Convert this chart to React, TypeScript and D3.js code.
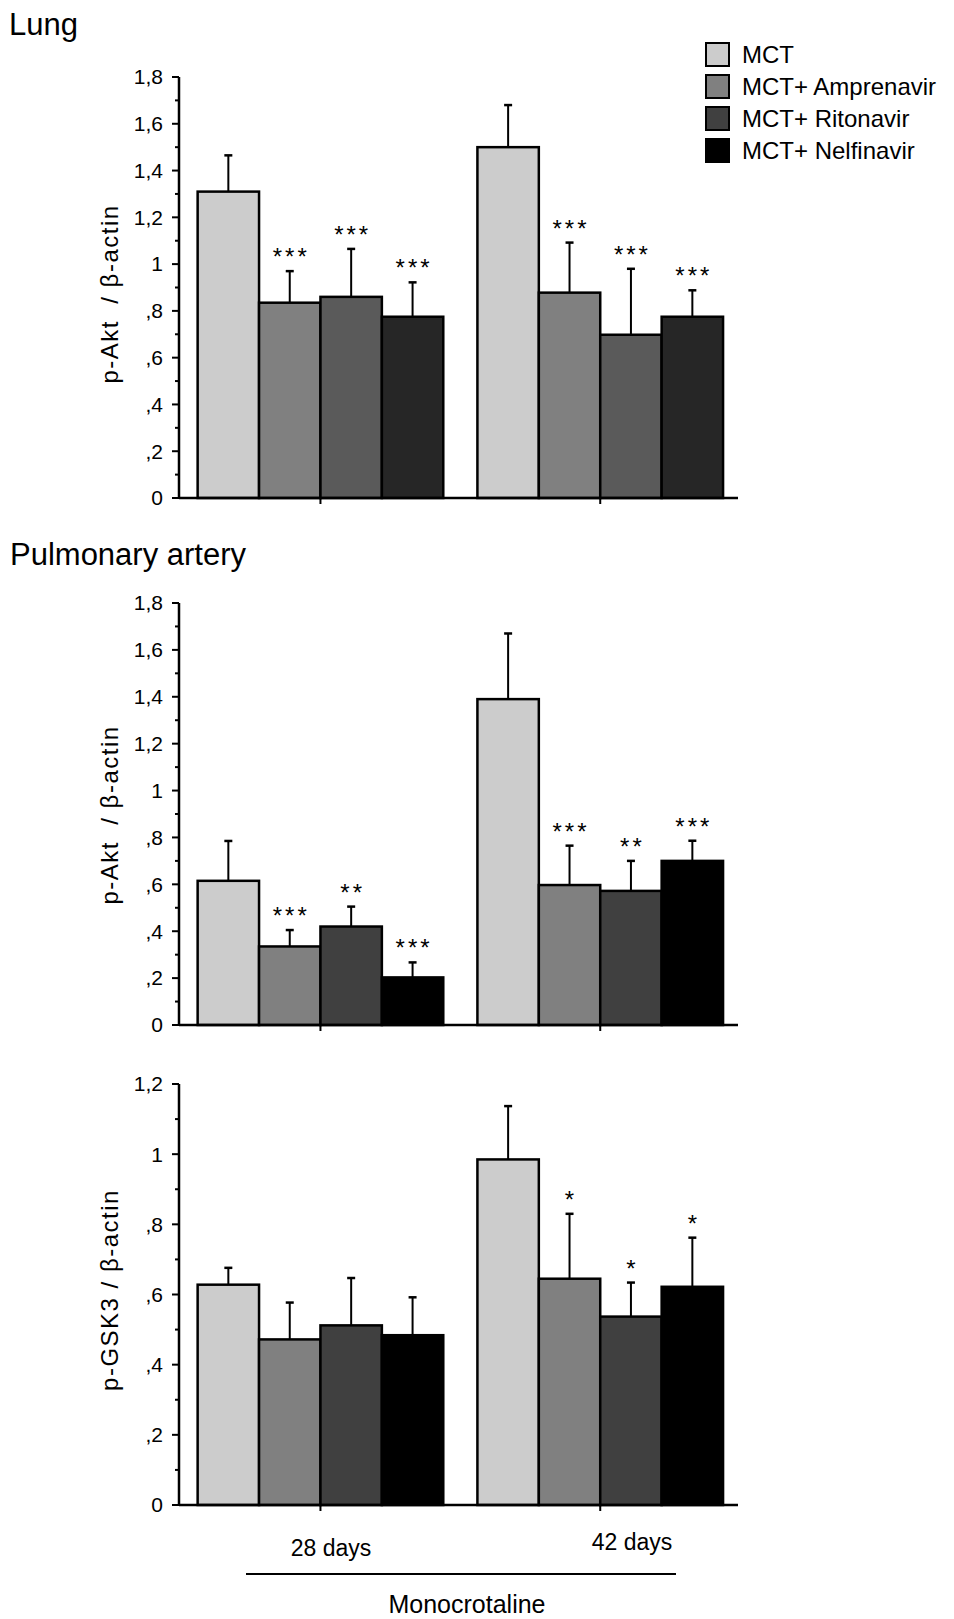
import React from "react";
import * as d3 from "d3";

const groups = ["28 days", "42 days"];
const series = ["MCT", "MCT+ Amprenavir", "MCT+ Ritonavir", "MCT+ Nelfinavir"];

const lungMeans = [[1.31, 0.835, 0.86, 0.775], [1.5, 0.878, 0.698, 0.775]];
const lungSem = [[0.155, 0.135, 0.205, 0.147], [0.18, 0.214, 0.282, 0.113]];
const lungSig = [["", "***", "***", "***"], ["", "***", "***", "***"]];

const paMeans = [[0.615, 0.335, 0.42, 0.203], [1.39, 0.597, 0.572, 0.7]];
const paSem = [[0.17, 0.07, 0.085, 0.064], [0.28, 0.168, 0.128, 0.086]];
const paSig = [["", "***", "**", "***"], ["", "***", "**", "***"]];

const gskMeans = [[0.628, 0.472, 0.512, 0.484], [0.985, 0.645, 0.537, 0.622]];
const gskSem = [[0.048, 0.105, 0.135, 0.108], [0.152, 0.185, 0.097, 0.14]];
const gskSig = [["", "", "", ""], ["", "*", "*", "*"]];

const lungTicks = ["0", ",2", ",4", ",6", ",8", "1", "1,2", "1,4", "1,6", "1,8"];
const gskTicks = ["0", ",2", ",4", ",6", ",8", "1", "1,2"];

const lungColors = ["#cccccc", "#808080", "#5a5a5a", "#262626"];
const paColors = ["#cccccc", "#808080", "#404040", "#000000"];

const FONT = "'Liberation Sans', Arial, Helvetica, sans-serif";

type PanelProps = {
  top: number;
  bottom: number;
  max: number;
  tickLabels: string[];
  means: number[][];
  sem: number[][];
  sig: string[][];
  colors: string[];
  ylabel: string;
  labelY: number;
};

const X0 = 179;
const X1 = 738;

function Panel({ top, bottom, max, tickLabels, means, sem, sig, colors, ylabel, labelY }: PanelProps) {
  const y = d3.scaleLinear().domain([0, max]).range([bottom, top]);
  const xg = d3.scaleBand().domain(groups).range([X0, X1]).paddingInner(0.122).paddingOuter(0.06).align(0.555);
  const xs = d3.scaleBand().domain(series).range([0, xg.bandwidth()]);
  const majors = tickLabels.map((_, i) => i * 0.2);
  const minors = d3.range(0, Math.round(max / 0.1) + 1).filter((i) => i % 2 === 1).map((i) => i * 0.1);
  return (
    <g>
      {groups.map((g, gi) => (
        <g key={g} transform={`translate(${xg(g)},0)`}>
          {series.map((s, si) => {
            const x = xs(s)!;
            const w = xs.bandwidth();
            const v = means[gi][si];
            const e = v + sem[gi][si];
            const cx = x + w / 2;
            return (
              <g key={s}>
                <line x1={cx} x2={cx} y1={y(v)} y2={y(e)} stroke="#000" strokeWidth={2} />
                <line x1={cx - 4} x2={cx + 4} y1={y(e)} y2={y(e)} stroke="#000" strokeWidth={2.5} />
                <rect x={x} y={y(v)} width={w} height={bottom - y(v)} fill={colors[si]} stroke="#000" strokeWidth={2.5} />
                {sig[gi][si] && (
                  <text x={cx + 1.5} y={y(e) - 6} textAnchor="middle" fontSize={24} letterSpacing={3} fontFamily={FONT}>
                    {sig[gi][si]}
                  </text>
                )}
              </g>
            );
          })}
        </g>
      ))}
      <line x1={X0} x2={X0} y1={top} y2={bottom + 1} stroke="#000" strokeWidth={2.5} />
      <line x1={X0} x2={X1} y1={bottom} y2={bottom} stroke="#000" strokeWidth={2.5} />
      {majors.map((v, i) => (
        <g key={i}>
          <line x1={X0 - 7} x2={X0} y1={y(v)} y2={y(v)} stroke="#000" strokeWidth={2} />
          <text x={163} y={y(v)} dy="0.35em" textAnchor="end" fontSize={21} fontFamily={FONT}>
            {tickLabels[i]}
          </text>
        </g>
      ))}
      {minors.map((v, i) => (
        <line key={i} x1={X0 - 4} x2={X0} y1={y(v)} y2={y(v)} stroke="#000" strokeWidth={2} />
      ))}
      {groups.map((g) => (
        <line key={g} x1={xg(g)! + xg.bandwidth() / 2} x2={xg(g)! + xg.bandwidth() / 2} y1={bottom} y2={bottom + 6} stroke="#000" strokeWidth={2} />
      ))}
      <text
        transform={`translate(118,${labelY}) rotate(-90)`}
        textAnchor="middle"
        fontSize={24}
        letterSpacing={1.5}
        fontFamily={FONT}
        style={{ whiteSpace: "pre" }}
      >
        {ylabel}
      </text>
    </g>
  );
}

export default function App() {
  return (
    <svg width={954} height={1619} style={{ display: "block", position: "absolute", left: 0, top: 0, background: "#fff" }}>
      <text x={9} y={35} fontSize={31} fontFamily={FONT}>Lung</text>
      {series.map((s, i) => (
        <g key={s} transform={`translate(706,${43 + i * 32})`}>
          <rect width={23} height={23} fill={paColors[i]} stroke="#000" strokeWidth={2} />
          <text x={36} y={11.5} dy="0.36em" fontSize={24} fontFamily={FONT}>{s}</text>
        </g>
      ))}
      <Panel top={77} bottom={498} max={1.8} tickLabels={lungTicks} means={lungMeans} sem={lungSem} sig={lungSig} colors={lungColors} ylabel="p-Akt  / β-actin" labelY={294} />
      <text x={10} y={565} fontSize={31} fontFamily={FONT}>Pulmonary artery</text>
      <Panel top={603} bottom={1025} max={1.8} tickLabels={lungTicks} means={paMeans} sem={paSem} sig={paSig} colors={paColors} ylabel="p-Akt  / β-actin" labelY={815} />
      <Panel top={1084} bottom={1505} max={1.2} tickLabels={gskTicks} means={gskMeans} sem={gskSem} sig={gskSig} colors={paColors} ylabel="p-GSK3 / β-actin" labelY={1290} />
      <text x={331} y={1556} textAnchor="middle" fontSize={23} fontFamily={FONT}>28 days</text>
      <text x={632} y={1550} textAnchor="middle" fontSize={23} fontFamily={FONT}>42 days</text>
      <line x1={246} x2={676} y1={1574} y2={1574} stroke="#000" strokeWidth={2} />
      <text x={467} y={1613} textAnchor="middle" fontSize={25} fontFamily={FONT}>Monocrotaline</text>
    </svg>
  );
}
